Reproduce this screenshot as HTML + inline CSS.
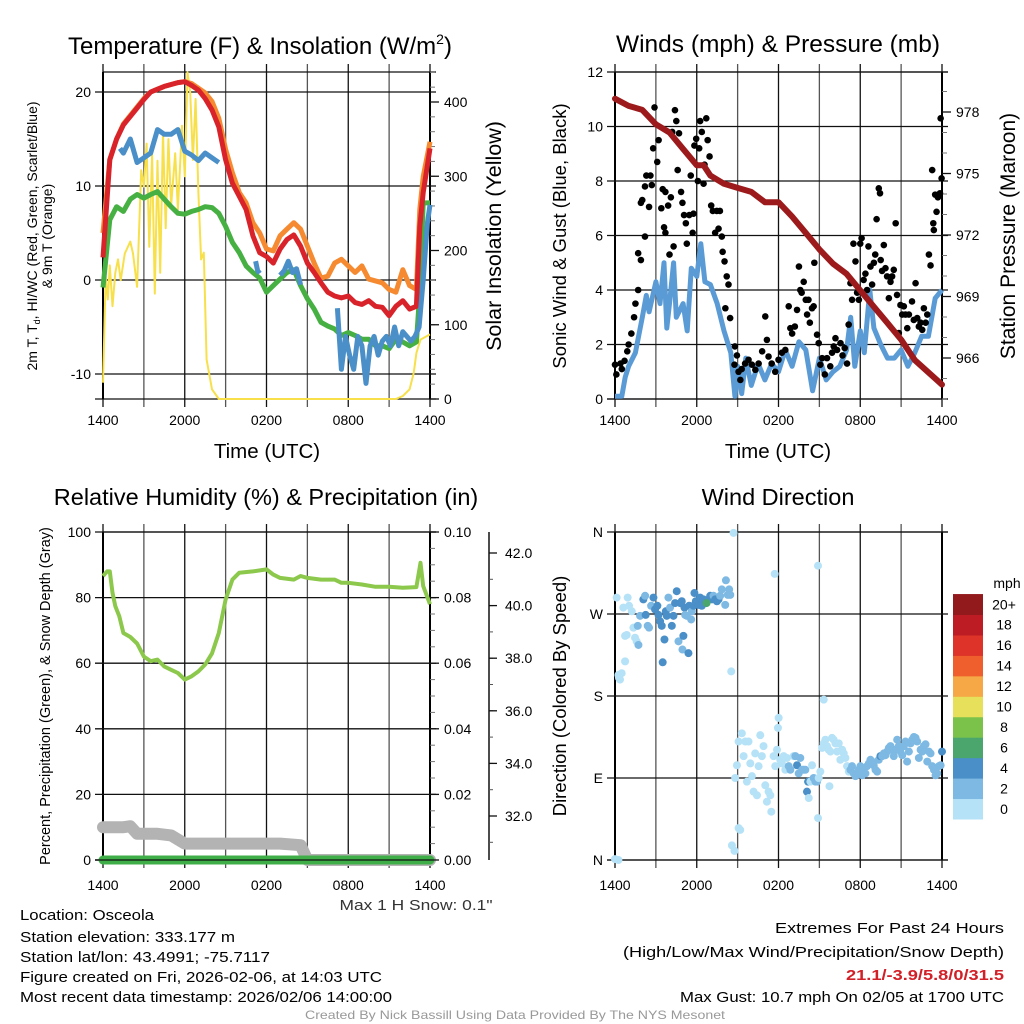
<!DOCTYPE html>
<html><head><meta charset="utf-8"><style>
html,body{margin:0;padding:0;background:#fff;}
svg{display:block;font-family:"Liberation Sans",sans-serif;}
</style></head><body>
<svg id="fig" width="1024" height="1024" viewBox="0 0 1024 1024" xmlns="http://www.w3.org/2000/svg">
<rect width="1024" height="1024" fill="#fff"/>
<g id="g"></g>
</svg>
<script>
// ---------- DATA ----------
var tempTimes=[0,0.5,1,1.5,2,2.5,3,3.5,4,4.5,5,5.5,6,6.5,7,7.5,8,8.5,9,9.5,10,10.5,11,11.5,12,12.5,13,13.5,14,14.5,15,15.5,16,16.5,17,17.5,18,18.5,19,19.5,20,20.5,21,21.5,22,22.5,23,23.25,23.5,24];
var temp2m=[2.4,12.8,15,16.5,17.4,18.3,19.2,20,20.3,20.6,20.8,21,21.1,20.7,20.2,19.3,18.1,16.3,12.8,10.3,8.9,7.5,4.7,2.9,2.5,1.8,3.3,4.3,4.8,3.6,1.8,0.8,-0.3,-1.3,-1.7,-1.9,-1.7,-2.4,-2.6,-2.2,-2.8,-2.9,-3.8,-2.8,-2.2,-3.1,-2.8,5.7,9.3,14];
var temp9m=[5,12.8,15,16.6,17.5,18.4,19.3,20,20.3,20.6,20.8,21,21.1,20.9,20.4,19.9,19,17.2,13.9,11.4,9.3,8.2,6.1,5,3.3,3.1,4.7,5.4,6.1,5.4,3.6,1.8,0.2,0.4,1.8,2.2,1.5,0.8,1.5,0.1,-0.1,-0.3,-1,-1.3,1.1,-0.6,-1,7.5,11,14.7];
var dewpt=[-0.8,6.4,7.8,7.3,8.6,9.1,8.7,9.1,9.4,8.6,7.8,7.1,7,7.3,7.5,7.8,7.7,7.1,5.7,4,2.9,1.5,0.8,0.2,-1.3,-0.6,0.1,0.8,1.1,-0.6,-2,-3.1,-4.5,-4.9,-5.2,-5.9,-5.6,-5.9,-6.3,-6.3,-7,-7,-7.3,-6.3,-6.6,-7,-6.6,-1.3,8.2,8.2];
var wcTimes1=[1.25,1.5,2,2.5,3,3.5,4,4.5,5,5.5,6,6.5,7,7.5,8,8.5];
var wcVals1=[14,13.5,15,12.5,13,13.5,16,15.5,15.5,16,13.7,13.3,12.7,13.5,13,12.5];
var wcTimes2=[11.2,11.35,11.5];
var wcVals2=[2,1,0.7];
var wcTimes3=[13,13.3,13.6,13.9,14.2,14.5];
var wcVals3=[0.5,1,2,0.8,1.2,-0.5];
var wcTimes4=[17.2,17.5,17.8,18.1,18.4,18.7,19,19.3,19.6,19.9,20.2,20.5,20.8,21.1,21.4,21.7,22,22.3,22.6,22.9,23.2,23.5,23.8,24];
var wcVals4=[-3,-9.5,-6,-8,-9.5,-6,-7,-11,-7,-6,-8,-6.5,-6,-7,-5,-7,-5.5,-6,-6.5,-6,-5,0,6,8];
var solTimes=[0,0.2,0.35,0.5,0.7,0.9,1.1,1.3,1.6,2,2.2,2.5,2.8,3,3.2,3.4,3.6,3.8,4,4.2,4.4,4.6,4.8,5,5.3,5.5,5.8,6,6.2,6.4,6.6,6.8,7,7.2,7.4,7.6,8,8.5,21.5,22,22.5,22.8,23,23.3,24];
var solVals=[22,165,134,180,125,170,188,160,196,212,196,151,308,286,344,205,330,142,321,170,360,230,350,260,331,255,368,300,440,413,322,404,278,188,197,53,13,0,0,4,13,35,62,80,87];
var presTimes=[0,1,2,3,4,5,6,6.5,7,8,9,10,11,12,13,14,15,16,17,18,19,20,21,22,23,24];
var presVals=[978.65,978.3,978.1,977.4,977,976.2,975.4,975.4,974.9,974.5,974.3,974.1,973.6,973.6,972.9,972.1,971.3,970.6,970.1,969.3,968.5,967.7,966.9,965.9,965.3,964.7];
var windTimes=[0,0.5,0.75,1,1.5,2,2.3,2.5,3,3.3,3.6,3.8,4,4.3,4.5,5,5.3,5.6,6,6.3,6.6,7,7.5,8,8.5,8.8,9,9.3,9.6,10,10.5,11,11.5,12,12.5,13,13.5,14,14.5,15,15.5,16,16.5,17,17.3,17.6,18,18.3,18.7,19,19.5,20,20.5,21,21.5,22,22.5,23,23.5,24];
var windVals=[0.1,0.1,0.8,1.2,1.7,3,3.8,3.2,4.3,3.5,5,2.6,3.5,5,3,3.5,2.5,4.8,4.5,5.7,4.3,4.2,3.5,2.5,1.7,0.1,1.2,0.2,1.5,0.5,1.3,0.7,1.3,1,1.8,1.2,2.1,1.8,0.3,1.5,0.7,1,1.2,1.8,3,1.2,2.5,1.7,4,2.6,2,1.5,1.5,1.8,1.2,1.7,2.3,2.3,3.7,4];
var gustTimes=[0,0.1,0.4,0.5,0.7,0.9,1,1.2,1.4,1.5,1.7,1.7,1.9,1.9,2,2.2,2.2,2.3,2.5,2.6,2.7,2.8,2.9,3.1,3.2,3.4,3.5,3.6,3.7,3.7,3.9,4,4.1,4.2,4.3,4.4,4.5,4.6,4.7,4.85,4.95,5.07,5.2,5.27,5.45,5.56,5.7,5.76,5.83,5.96,6.08,6.18,6.25,6.37,6.5,6.57,6.7,6.8,6.94,7.06,7.18,7.35,7.47,7.6,7.7,7.84,7.9,8.04,8.2,8.33,8.1,8.45,8.8,8.77,8.95,9.07,9.2,9.3,9.55,9.8,10.05,10.3,10.54,10.8,11.03,11.15,11.27,11.5,11.76,12,12.25,12.5,12.75,12.87,13,13.2,13.36,13.5,13.6,13.7,13.85,14,14.1,14.2,14.3,14.46,14.58,14.63,14.83,14.95,15.07,15.2,15.4,15.56,15.8,15.93,16.05,16.18,16.3,16.55,16.7,16.86,17.03,17.15,17.28,17.4,17.5,17.65,17.77,17.9,18,18.1,18.25,18.38,18.5,18.6,18.75,18.87,19,19.1,19.2,19.36,19.45,19.5,19.6,19.73,19.85,19.97,20.1,20.22,20.34,20.46,20.6,20.7,20.83,20.95,21.08,21.2,21.32,21.45,21.57,21.8,21.93,22.06,22.18,22.3,22.43,22.55,22.67,22.8,22.92,23.04,23.16,23.28,23.36,23.4,23.5,23.6,23.7,23.85,23.97,23.9];
var gustVals=[1.26,0.9,1.3,1.1,1.4,1.75,2,2.4,3,3.5,4,5.35,5.1,7.2,7.3,5.96,7.8,8.2,7.05,8.2,7.85,9.2,10.7,8.7,9.5,7,7.7,6.3,7.6,6.1,7.1,5.3,7.4,9.8,5.6,10.6,10.2,8.4,9.75,7.6,7.2,6.75,6.45,5.7,6.75,8.2,6.1,6.8,9.3,9.55,8,9.2,10.2,9.8,7.9,8.6,10.3,9.5,8.9,7.1,6.9,6.1,6.9,6.25,6.9,5.96,5.4,5.05,4.5,4.2,3.33,2.97,1.93,1.26,1.6,1,0.7,1.1,1.3,1.44,1.26,1.07,1.3,1.75,3.03,2.17,1.56,1.3,1,1.44,1.7,1.8,3.4,2.6,2.4,2.66,3.27,4.86,4,3.9,4.3,3.64,3.1,3.64,2.8,3.33,3.4,5,2.36,2.05,1.26,1.5,0.9,1.5,1.2,1.7,1.93,2.23,1.8,2.05,1.6,1.87,1.3,2.73,4.25,3.64,5.7,5.05,3.9,3.64,5.7,5.9,4.37,4.6,4,5.6,4.86,4.2,5,5.3,6.6,7.73,7.55,5.1,4.7,5.65,4.8,4.5,3.7,4.3,4.5,4.74,6.45,3.82,2.42,3.45,3.1,3.4,3.1,2.6,3.1,3.58,2.9,4.25,2.97,2.66,2.8,2.54,3.33,2.8,3.1,5.3,4.9,8.4,6.45,6.2,7.5,6.87,7.4,7.55,8.1,10.3];
var rhTimes=[0,0.3,0.5,0.7,0.9,1.2,1.5,2,2.5,3,3.5,4,4.5,5,5.5,6,6.5,7,7.5,8,8.5,9,9.5,10,11,12,12.5,13,14,14.5,15,16,17,17.5,18,19,20,21,22,23,23.3,23.5,24];
var rhVals=[86.6,88,88,81.5,77.4,74.3,69.2,68,66,62,60.6,61.1,59,58,57,55,56,57.5,59.6,63,69.2,79.4,85.5,87.6,88,88.6,87,86,85.5,86.6,86,85.5,85.5,84.5,84.5,84,83.3,83.3,83,83.2,90.6,83.5,78];
var snowTimes=[0,1.5,2,2.5,4,5,6,10,13,14.5,15,24];
var snowVals=[10,10,10.3,8,8,7.5,5,5,5,4.5,0,0];
var precipTimes=[0,24];
var precipVals=[0,0];
var dirTimes=[0.12,0.25,0.29,0.37,0.49,0.61,0.74,0.74,0.86,0.93,1.03,1.23,1.35,1.47,1.59,1.72,1.67,1.84,2.08,2.21,2.25,2.4,2.5,2.65,2.82,2.94,3.11,3.19,3.31,3.43,3.5,3.63,3.73,3.8,3.92,4.04,4.17,4.29,4.41,4.53,4.66,4.78,4.9,4.95,5.02,5.1,5.15,5.27,5.39,5.44,5.59,5.64,5.76,5.83,5.93,6.13,6.25,6.37,6.5,6.62,6.86,6.99,7.11,7.23,7.35,7.48,7.6,7.72,7.84,8.09,8.14,8.28,8.38,8.46,8.53,8.7,8.58,8.77,9.07,9.19,8.82,8.95,9.07,9.31,9.44,9.56,9.68,9.8,9.93,10.05,10.17,10.29,10.42,10.54,10.66,10.78,10.9,11.03,11.15,11.27,11.4,11.47,11.64,11.76,11.89,11.96,12.01,12.13,12.25,12.38,12.5,12.62,12.75,12.87,13.11,13.24,13.36,13.48,13.6,13.73,13.85,13.97,14.09,14.17,14.22,14.34,14.46,14.58,14.71,14.83,14.9,14.95,15.07,15.2,15.32,15.44,15.56,15.69,15.74,15.81,15.93,16.05,16.18,16.3,16.42,16.54,16.67,16.79,16.91,17.03,17.16,17.28,17.4,17.52,17.65,17.77,17.89,18.01,18.14,18.26,18.38,18.5,18.63,18.75,18.87,18.99,19.12,19.24,19.36,19.48,19.61,19.73,19.85,19.97,20.1,20.22,20.34,20.46,20.59,20.71,20.83,20.95,21.08,21.2,21.32,21.44,21.57,21.69,21.81,21.94,22.06,22.18,22.3,22.43,22.55,22.67,22.79,22.92,23.04,23.16,23.28,23.41,23.53,23.65,23.77,23.9,24];
var dirDeg=[288,203,200,198,205,277,218,246,247,288,279,273,255,244,240,236,257,268,286,290,269,257,255,279,288,275,279,269,262,257,217,242,273,268,288,277,257,268,282,295,240,282,284,231,246,277,269,268,227,279,264,273,279,293,284,280,288,279,286,282,286,290,286,290,286,284,286,290,297,280,307,291,297,291,207,359,16,10,35,33,90,104,130,139,114,130,86,130,106,92,75,117,71,103,137,114,125,82,64,75,71,53,114,103,121,145,156,110,106,114,99,112,103,99,114,114,104,95,112,99,99,99,75,86,68,86,104,90,86,86,46,90,97,123,128,132,125,121,81,119,134,132,128,119,128,110,121,117,112,103,97,99,103,95,92,95,99,103,93,97,95,103,106,110,108,104,99,97,110,114,114,117,115,119,123,125,121,114,121,132,125,119,115,125,130,108,119,128,132,135,134,130,112,121,119,125,127,108,119,117,103,99,93,95,103,104,119];
var dirSpeed=[1,1,1,1,1,1,1,1,1,1,1,1,1,1,1,3,3,3,5,3,5,3,3,3,5,5,5,5,5,5,5,5,5,5,3,3,5,5,5,5,3,5,5,3,5,5,3,3,5,5,3,3,5,5,5,5,5,5,5,5,5,5,5,3,5,5,5,3,3,3,3,3,3,3,1,1,1,1,1,1,1,1,1,1,1,1,1,1,1,1,1,1,1,1,1,1,1,1,1,1,1,1,1,1,1,1,1,1,1,1,1,1,3,3,1,3,5,3,3,3,3,3,5,5,1,1,1,3,3,3,1,1,1,1,1,1,1,1,1,1,1,1,1,1,1,1,1,1,1,1,1,3,3,3,3,3,3,3,3,3,3,3,3,3,3,3,3,3,3,5,3,3,3,3,3,3,3,3,3,3,3,3,3,3,3,3,3,3,3,3,3,3,3,3,3,3,3,3,3,3,3,3,3,3,3,3,5,5,3,3,5];
var dirExtraTimes=[0,0.25,15.32,11.72,14.9,6.72];
var dirExtraDeg=[1,0,176,314,323,282];
var dirExtraSpeed=[1,1,1,1,1,7];
var timeTickVals=[0,6,12,18,24];
var timeTickLabels=["1400","2000","0200","0800","1400"];
var tempTicks=[-10,0,10,20];
var solTicks=[0,100,200,300,400];
var windTicks=[0,2,4,6,8,10,12];
var presTicks=[966,969,972,975,978];
var rhTicks=[0,20,40,60,80,100];
var precipTickLabels=["0.00","0.02","0.04","0.06","0.08","0.10"];
var snowAxisTicks=[32,34,36,38,40,42];
var dirTicks=[0,90,180,270,360];
var dirTickLabels=["N","E","S","W","N"];
var cbarLabels=["0","2","4","6","8","10","12","14","16","18","20+"];
var cbarColors=["#b5e2f7","#7db9e3","#4a8fc7","#4aa66d","#7bc24b","#e6e05a","#f5a845","#ee5f2d","#dd3328","#bd1c24","#931a1c"];

// ---------- HELPERS ----------
var NS="http://www.w3.org/2000/svg";
var G=document.getElementById('g');
function mk(tag,attrs,parent){var e=document.createElementNS(NS,tag);for(var k in attrs)e.setAttribute(k,attrs[k]);(parent||G).appendChild(e);return e;}
function txt(s,x,y,size,anchor,extra,parent){var a={x:x,y:y,'font-size':size,'text-anchor':anchor||'middle',fill:'#000'};if(extra)for(var k in extra)a[k]=extra[k];var e=mk('text',a,parent);e.textContent=s;return e;}
function lin(d0,d1,r0,r1){return function(v){return r0+(v-d0)*(r1-r0)/(d1-d0);};}
function pathD(xs,ys,fx,fy){var d='';for(var i=0;i<xs.length;i++){d+=(i?'L':'M')+fx(xs[i]).toFixed(1)+','+fy(ys[i]).toFixed(1);}return d;}

var L={x0:103,x1:430}, R={x0:615,x1:942};
var TOP=72,BOT=399,TOP2=532,BOT2=860;

function frame(P,top,bot,name){
  var fx=lin(0,24,P.x0,P.x1);
  var g=mk('g',{});
  
  
  for(var h=0;h<=24;h+=3){
    var X=fx(h);
    mk('line',{x1:X,y1:top-8,x2:X,y2:bot+8,stroke:(h%6==0?'#111':'#555'),'stroke-width':1.3},g);
  }
  mk('line',{x1:P.x0,y1:top,x2:P.x1+6,y2:top,stroke:'#111','stroke-width':1.3},g);
  mk('line',{x1:P.x0-8,y1:bot,x2:P.x1+6,y2:bot,stroke:'#111','stroke-width':1.3},g);
  mk('line',{x1:P.x0,y1:top,x2:P.x0,y2:bot,stroke:'#000','stroke-width':2},g);
  mk('line',{x1:P.x1,y1:top,x2:P.x1,y2:bot,stroke:'#000','stroke-width':2},g);
  return fx;
}
function hgrid(P,ys,fy,labels,name,withRightTick){
  for(var i=0;i<ys.length;i++){
    var Y=fy(ys[i]);
    var l=mk('line',{x1:P.x0-8,y1:Y,x2:P.x1+(withRightTick?6:0),y2:Y,stroke:'#111','stroke-width':1.3});
    
    
    var t=txt(labels[i],P.x0-12,Y+5,14,'end');
    
    
  }
}
function xlabels(fx,yy){
  for(var i=0;i<timeTickVals.length;i++){
    var t=txt(timeTickLabels[i],fx(timeTickVals[i]),yy,14,'middle');
    
    
  }
}
var TOPc,BOTc;
function rightTicks(P,vals,fy,labels,name,minorStep,d0,d1){
  if(minorStep){for(var v=d0;v<=d1+1e-9;v+=minorStep){var Y=fy(v);if(Y<TOPc-1||Y>BOTc+1)continue;mk('line',{x1:P.x1,y1:Y,x2:P.x1+5,y2:Y,stroke:'#777','stroke-width':1});}}
  for(var i=0;i<vals.length;i++){
    var Y=fy(vals[i]);
    mk('line',{x1:P.x1,y1:Y,x2:P.x1+9,y2:Y,stroke:'#111','stroke-width':1.3});
    var t=txt(labels[i],P.x1+14,Y+5,14,'start');
    
    
  }
}

// ---------- PANEL 1: Temperature ----------
(function(){
  TOPc=TOP;BOTc=BOT;
  var fx=frame(L,TOP,BOT,'temperature-panel');
  var fy=lin(0,20,280,92);
  var fs=lin(0,400,399,102);
  hgrid(L,tempTicks,fy,tempTicks.map(String),'temperature-axis',true);
  rightTicks(L,solTicks,fs,solTicks.map(String),'insolation-axis',20,0,440);
  xlabels(fx,425);
  var t;
  t=txt('Temperature (F) & Insolation (W/m',260,54,24,'middle');
  
  
  var sup=mk('tspan',{'font-size':14,dy:-10},t);sup.textContent='2';
  var cl=mk('tspan',{dy:10},t);cl.textContent=')';
  t=txt('Time (UTC)',267,458,20.5,'middle');
  
  
  t=txt('',0,0,14,'middle',{transform:'translate(37,236) rotate(-90)'});
  
  
  var a=mk('tspan',{},t);a.textContent='2m T, T';
  var b=mk('tspan',{'font-size':9,dy:3},t);b.textContent='d';
  var c=mk('tspan',{dy:-3},t);c.textContent=', HI/WC (Red, Green, Scarlet/Blue)';
  t=txt('& 9m T (Orange)',0,0,14,'middle',{transform:'translate(52,236) rotate(-90)'});
  
  
  t=txt('Solar Insolation (Yellow)',0,0,21.5,'middle',{transform:'translate(501,236) rotate(-90)'});
  
  
  var p;
  p=mk('path',{d:pathD(solTimes,solVals,fx,fs),fill:'none',stroke:'#f7e04a','stroke-width':2,'stroke-linejoin':'round'});
  
  
  p=mk('path',{d:pathD(tempTimes,dewpt,fx,fy),fill:'none',stroke:'#46b043','stroke-width':5,'stroke-linejoin':'round'});
  
  
  p=mk('path',{d:pathD(tempTimes,temp9m,fx,fy),fill:'none',stroke:'#f58a30','stroke-width':5,'stroke-linejoin':'round'});
  
  
  p=mk('path',{d:pathD(tempTimes,temp2m,fx,fy),fill:'none',stroke:'#d9232a','stroke-width':5,'stroke-linejoin':'round'});
  
  
  var segs=[[wcTimes1,wcVals1],[wcTimes2,wcVals2],[wcTimes3,wcVals3],[wcTimes4,wcVals4]];
  for(var s=0;s<segs.length;s++){
    p=mk('path',{d:pathD(segs[s][0],segs[s][1],fx,fy),fill:'none',stroke:'#4a8fc8','stroke-width':5,'stroke-linejoin':'round'});
    
    
  }
})();

// ---------- PANEL 2: Winds ----------
(function(){
  TOPc=TOP;BOTc=BOT;
  var fx=frame(R,TOP,BOT,'winds-panel');
  var fy=lin(0,12,399,72);
  var fp=lin(966,978,358,112);
  hgrid(R,windTicks,fy,windTicks.map(String),'wind-axis',true);
  rightTicks(R,presTicks,fp,presTicks.map(String),'pressure-axis',1,964,979.9);
  xlabels(fx,425);
  var t;
  t=txt('Winds (mph) & Pressure (mb)',778,52,24.5,'middle');
  
  
  t=txt('Time (UTC)',778,458,20.5,'middle');
  
  
  t=txt('Sonic Wind & Gust (Blue, Black)',0,0,18.5,'middle',{transform:'translate(566,236) rotate(-90)'});
  
  
  t=txt('Station Pressure (Maroon)',0,0,21,'middle',{transform:'translate(1015,236) rotate(-90)'});
  
  
  var p=mk('path',{d:pathD(windTimes,windVals,fx,fy),fill:'none',stroke:'#5a9bd5','stroke-width':5,'stroke-linejoin':'round'});
  
  
  var gg=mk('g',{});
  
  
  for(var i=0;i<gustTimes.length;i++){
    var c=mk('circle',{cx:fx(gustTimes[i]),cy:fy(gustVals[i]),r:3.3,fill:'#000'},gg);
    
    
  }
  p=mk('path',{d:pathD(presTimes,presVals,fx,fp),fill:'none',stroke:'#9c1a1c','stroke-width':6,'stroke-linejoin':'round','stroke-linecap':'round'});
  
  
})();

// ---------- PANEL 3: RH ----------
(function(){
  TOPc=TOP2;BOTc=BOT2;
  var fx=frame(L,TOP2,BOT2,'humidity-panel');
  var fy=lin(0,100,860,532);
  var fpr=lin(0,0.1,860,532);
  hgrid(L,rhTicks,fy,rhTicks.map(String),'humidity-axis',true);
  rightTicks(L,[0,0.02,0.04,0.06,0.08,0.1],fpr,precipTickLabels,'precip-axis',0.005,0,0.1);
  var fsd=lin(32,42,816,553);
  var ax=mk('line',{x1:489,y1:532,x2:489,y2:860,stroke:'#111','stroke-width':1.5});
  
  
  for(var v=31;v<=43.01;v+=1){var Y=fsd(v);if(Y<532||Y>860)continue;mk('line',{x1:489,y1:Y,x2:493,y2:Y,stroke:'#555','stroke-width':1});}
  for(var i=0;i<snowAxisTicks.length;i++){
    var Y=fsd(snowAxisTicks[i]);
    mk('line',{x1:489,y1:Y,x2:497,y2:Y,stroke:'#111','stroke-width':1.3});
    var t=txt(snowAxisTicks[i].toFixed(1),505,Y+5,14,'start');
    
    
  }
  xlabels(fx,890);
  var t;
  t=txt('Relative Humidity (%) & Precipitation (in)',266,505,23.5,'middle');
  
  
  t=txt('Percent, Precipitation (Green), & Snow Depth (Gray)',0,0,14.5,'middle',{transform:'translate(50,696) rotate(-90)'});
  
  
  t=txt('Max 1 H Snow: 0.1"',416,910,15,'middle',{fill:'#333',textLength:153,lengthAdjust:'spacingAndGlyphs'});
  
  
  var p=mk('path',{d:pathD(snowTimes,snowVals,fx,fy),fill:'none',stroke:'#b3b3b3','stroke-width':12,'stroke-linejoin':'round','stroke-linecap':'round'});
  
  
  p=mk('path',{d:pathD(precipTimes,precipVals,fx,fpr),fill:'none',stroke:'#3fae49','stroke-width':9,'stroke-linecap':'round'});
  
  
  p=mk('path',{d:pathD(rhTimes,rhVals,fx,fy),fill:'none',stroke:'#8cc84b','stroke-width':4,'stroke-linejoin':'round'});
  
  
  mk('line',{x1:L.x0-8,y1:860,x2:L.x1+6,y2:860,stroke:'#111','stroke-width':1.3});
})();

// ---------- PANEL 4: Wind direction ----------
(function(){
  TOPc=TOP2;BOTc=BOT2;
  var fx=frame(R,TOP2,BOT2,'direction-panel');
  var fy=lin(0,360,860,532);
  hgrid(R,dirTicks,fy,dirTickLabels,'direction-axis',true);
  xlabels(fx,890);
  var t;
  t=txt('Wind Direction',778,505,23.5,'middle');
  
  
  t=txt('Direction (Colored By Speed)',0,0,18.5,'middle',{transform:'translate(566,696) rotate(-90)'});
  
  
  var g=mk('g',{});
  
  
  function colorFor(sp){return cbarColors[Math.min(cbarColors.length-1,Math.floor(sp/2))];}
  for(var i=0;i<dirTimes.length;i++){
    var sp=dirSpeed[i]!==undefined?dirSpeed[i]:1;
    var c=mk('circle',{cx:fx(dirTimes[i]),cy:fy(dirDeg[i]),r:4,fill:colorFor(sp)},g);
    
    
  }
  for(var j=0;j<dirExtraTimes.length;j++){
    var c2=mk('circle',{cx:fx(dirExtraTimes[j]),cy:fy(dirExtraDeg[j]),r:4,fill:colorFor(dirExtraSpeed[j])},g);
    
    
  }
  var lg=mk('g',{});
  
  
  var bh=20.45, by=819;
  for(var k=0;k<cbarColors.length;k++){
    var r=mk('rect',{x:953,y:by-(k+1)*bh,width:30,height:bh+0.5,fill:cbarColors[k]},lg);
    
    
    var tl=txt(cbarLabels[k],1004,by-k*bh-bh/2+5,14,'middle',null,lg);
    
    
  }
  t=txt('mph',1007,588,14,'middle');
  
  
})();

// ---------- FOOTER ----------
var leftLines=[["Location: Osceola",134,920],["Station elevation: 333.177 m",215,942],["Station lat/lon: 43.4991; -75.7117",250,962],["Figure created on Fri, 2026-02-06, at 14:03 UTC",362,982],["Most recent data timestamp: 2026/02/06 14:00:00",372,1002]];
leftLines.forEach(function(l){
  var t=txt(l[0],20,l[2],15,'start',{textLength:l[1],lengthAdjust:'spacingAndGlyphs'});
  
  
});
var rightLines=[["Extremes For Past 24 Hours",229,933,'#000','normal'],["(High/Low/Max Wind/Precipitation/Snow Depth)",381,957,'#000','normal'],["21.1/-3.9/5.8/0/31.5",158,980,'#d12027','bold'],["Max Gust: 10.7 mph On 02/05 at 1700 UTC",324,1002,'#000','normal']];
rightLines.forEach(function(l){
  var t=txt(l[0],1004-l[1],l[2],15,'start',{textLength:l[1],lengthAdjust:'spacingAndGlyphs',fill:l[3],'font-weight':l[4]});
  
  
});
var cr=txt('Created By Nick Bassill Using Data Provided By The NYS Mesonet',305,1019,12,'start',{textLength:420,lengthAdjust:'spacingAndGlyphs',fill:'#999'});


</script>
</body></html>
